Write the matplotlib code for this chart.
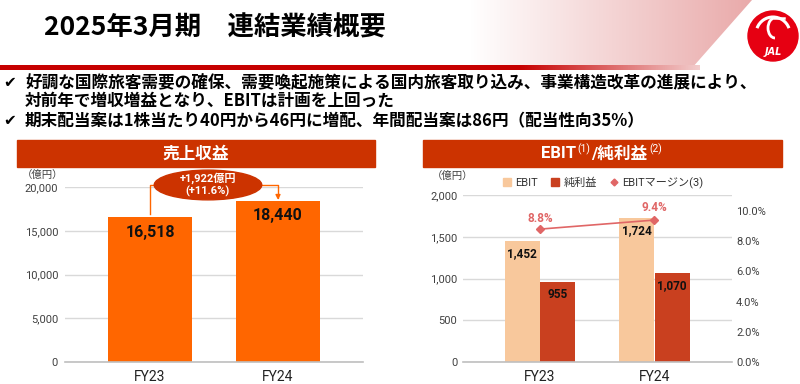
import numpy as np
import matplotlib
matplotlib.use("Agg")
import matplotlib.pyplot as plt
from matplotlib.patches import Rectangle, Ellipse, Polygon, Circle, Arc, Patch
from matplotlib.lines import Line2D
from matplotlib.colors import LinearSegmentedColormap
from matplotlib.ticker import FuncFormatter

plt.rcParams['font.family'] = ['Roboto', 'Noto Sans CJK JP', 'DejaVu Sans']

# data
years = ['FY23', 'FY24']
revenue = [16518, 18440]
ebit = [1452, 1724]
net_income = [955, 1070]
ebit_margin = [8.8, 9.4]

title = '2025年3月期　連結業績概要'
bullets = ['好調な国際旅客需要の確保、需要喚起施策による国内旅客取り込み、事業構造改革の進展により、',
           '対前年で増収増益となり、EBITは計画を上回った',
           '期末配当案は1株当たり40円から46円に増配、年間配当案は86円（配当性向35%）']

ORANGE = '#ff6600'
HEAD_RED = '#cc3300'
PEACH = '#f8c89c'
BRICK = '#c9401f'
PINK = '#e06666'
GRID = '#d9d9d9'
TICK = '#404040'
CJK = ['Noto Sans CJK JP', 'DejaVu Sans']

W, H = 800, 384
fig = plt.figure(figsize=(8, 3.84), dpi=100)
bg = fig.add_axes([0, 0, 1, 1], zorder=0)
bg.axis('off')


def fbox(x0, y0, x1, y1):
    return [x0 / W, 1 - y1 / H, (x1 - x0) / W, (y1 - y0) / H]


# header decoration
cmap = LinearSegmentedColormap.from_list('sw', ['#ffffff', '#e9a9a9'])
im = bg.imshow(np.linspace(0, 1, 256).reshape(1, -1), extent=[470, 755, 68, 0],
               cmap=cmap, aspect='auto', zorder=0.5)
im.set_clip_path(Polygon([(470, 0), (752, 0), (692, 68), (470, 68)], transform=bg.transData))

line_cols = np.ones((1, 300, 3))
red = np.array([0.78, 0.0, 0.0])
pale = np.array([0.95, 0.8, 0.8])
t = np.clip((np.linspace(0, 700, 300) - 520) / 180, 0, 1)
line_cols[0] = red[None, :] * (1 - t[:, None]) + pale[None, :] * t[:, None]
bg.imshow(line_cols, extent=[0, 700, 70, 65.5], aspect='auto', zorder=0.6)

bg.set_xlim(0, W)
bg.set_ylim(H, 0)

bg.text(44, 28, title, fontsize=19, fontweight='bold', va='center', ha='left', family=CJK)

# JAL logo
bg.add_patch(Circle((773, 36), 25, color='#e60012', zorder=2))
bg.add_patch(Arc((773, 34), 34, 34, theta1=200, theta2=340, color='white', lw=2.2, zorder=3))
bg.add_patch(Arc((775, 28), 14, 20, theta1=90, theta2=270, color='white', lw=2, zorder=3))
bg.plot([775, 784], [18, 18], color='white', lw=1.8, zorder=3)
bg.text(773, 52, 'JAL', color='white', fontsize=7, fontweight='bold', style='italic',
        ha='center', va='center', zorder=4, family='DejaVu Sans')

# bullets
for y, s, mark in zip([82, 101, 121], bullets, [True, False, True]):
    if mark:
        bg.text(3, y, '✔', fontsize=11, fontweight='bold', va='center', family='DejaVu Sans')
    bg.text(25, y, s, fontsize=12, fontweight='bold', va='center', family=CJK)

# panel headers
bg.add_patch(Rectangle((17, 140), 358, 27, color=HEAD_RED, zorder=1))
bg.add_patch(Rectangle((423, 140), 359, 27, color=HEAD_RED, zorder=1))
bg.text(196, 154, '売上収益', color='white', fontsize=12, fontweight='bold',
        ha='center', va='center', zorder=2)

renderer = fig.canvas.get_renderer()
parts = [('EBIT', 12, 0), ('(1)', 7.5, -5), ('/純利益', 12, 0), ('(2)', 7.5, -5)]
objs = []
for s, fs, dy in parts:
    objs.append((bg.text(0, 154 + dy, s, color='white', fontsize=fs, fontweight='bold' if fs > 8 else 'normal',
                         ha='left', va='center', zorder=2), fs))
widths = [o.get_window_extent(renderer).width + (3 if fs < 8 else 0) for o, fs in objs]
x = 602 - sum(widths) / 2
for (o, fs), w in zip(objs, widths):
    o.set_x(x + (2 if fs < 8 else 0))
    x += w

# unit labels
bg.text(43, 175, '（億円）', fontsize=7.5, color=TICK, ha='center', va='center', family=CJK)
bg.text(453, 176, '（億円）', fontsize=7.5, color=TICK, ha='center', va='center', family=CJK)

# left chart: revenue
ax1 = fig.add_axes(fbox(65, 187, 363, 362), zorder=2)
ax1.patch.set_alpha(0)
xs = np.arange(len(years))
ax1.bar(xs, revenue, 0.65, color=ORANGE, zorder=2)
ax1.set_xlim(-0.664, 1.664)
ax1.set_ylim(0, 20000)
ax1.set_yticks([0, 5000, 10000, 15000, 20000])
ax1.yaxis.set_major_formatter(FuncFormatter(lambda v, p: f'{v:,.0f}'))
ax1.set_xticks(xs)
ax1.set_xticklabels(years, fontsize=10)
ax1.tick_params(axis='y', length=0, pad=5, labelsize=8, labelcolor=TICK)
ax1.tick_params(axis='x', length=0, pad=6, labelcolor='#222222')
ax1.yaxis.grid(True, color=GRID, lw=1)
ax1.set_axisbelow(True)
for sp in ['top', 'right', 'left']:
    ax1.spines[sp].set_visible(False)
ax1.spines['bottom'].set_color('#bfbfbf')
ax1.spines['bottom'].set_linewidth(1.2)
for i, v in enumerate(revenue):
    ax1.annotate(f'{v:,}', (i, v), xytext=(0, -11), textcoords='offset points',
                 ha='center', va='center', fontsize=11.5, fontweight='bold', color='#111111')

# change bubble
diff = revenue[1] - revenue[0]
pct = diff / revenue[0] * 100
yc = 20230
ex, ew = 0.453, 0.84
ax1.plot([0, 0, ex - ew / 2], [revenue[0] + 400, yc, yc], color=ORANGE, lw=1, clip_on=False)
ax1.annotate('', xy=(1, revenue[1] + 80), xytext=(ex + ew / 2 - 0.01, yc),
             arrowprops=dict(arrowstyle='-|>', color=ORANGE, lw=1, mutation_scale=7,
                             connectionstyle='angle,angleA=0,angleB=90,rad=0',
                             shrinkA=0, shrinkB=0), annotation_clip=False)
ax1.add_patch(Ellipse((ex, yc), ew, 3400, color=HEAD_RED, clip_on=False, zorder=3))
ax1.text(ex, yc, f'+{diff:,}億円\n(+{pct:.1f}%)', color='white', fontsize=8, fontweight='bold',
         ha='center', va='center', linespacing=1.2, zorder=4,
         family=['Roboto', 'Noto Sans CJK JP'])

# right chart: EBIT / net income
ax2 = fig.add_axes(fbox(463, 195, 732, 362), zorder=2)
ax2.patch.set_alpha(0)
bw = 0.305
ax2.bar(xs - 0.155, ebit, bw, color=PEACH, zorder=2)
ax2.bar(xs + 0.155, net_income, bw, color=BRICK, zorder=2)
ax2.set_xlim(-0.672, 1.677)
ax2.set_ylim(0, 2000)
ax2.set_yticks([0, 500, 1000, 1500, 2000])
ax2.yaxis.set_major_formatter(FuncFormatter(lambda v, p: f'{v:,.0f}'))
ax2.set_xticks(xs)
ax2.set_xticklabels(years, fontsize=10)
ax2.tick_params(axis='y', length=0, pad=4, labelsize=8, labelcolor=TICK)
ax2.tick_params(axis='x', length=0, pad=6, labelcolor='#222222')
ax2.yaxis.grid(True, color=GRID, lw=1)
ax2.set_axisbelow(True)
for sp in ['top', 'right', 'left']:
    ax2.spines[sp].set_visible(False)
ax2.spines['bottom'].set_color('#bfbfbf')
ax2.spines['bottom'].set_linewidth(1.2)
for i in xs:
    ax2.annotate(f'{ebit[i]:,}', (i - 0.155, ebit[i]), xytext=(0, -9), textcoords='offset points',
                 ha='center', va='center', fontsize=8.5, fontweight='bold', color='#111111')
    ax2.annotate(f'{net_income[i]:,}', (i + 0.155, net_income[i]), xytext=(0, -9),
                 textcoords='offset points', ha='center', va='center', fontsize=8.5,
                 fontweight='bold', color='#111111')

ax3 = ax2.twinx()
ax3.set_ylim(0, 10 * 167 / 151)
ax3.set_yticks([0, 2, 4, 6, 8, 10])
ax3.yaxis.set_major_formatter(FuncFormatter(lambda v, p: f'{v:.1f}%'))
ax3.tick_params(axis='y', length=0, pad=3, labelsize=8, labelcolor=TICK)
for sp in ax3.spines.values():
    sp.set_visible(False)
ax3.plot(xs, ebit_margin, color=PINK, lw=1.2, marker='D', ms=4, zorder=3)
for i, m in enumerate(ebit_margin):
    ax3.annotate(f'{m:.1f}%', (i, m), xytext=(0, 7.5 + 1.5 * i), textcoords='offset points',
                 ha='center', va='center', fontsize=8.5, fontweight='bold', color=PINK)

handles = [Patch(color=PEACH, label='EBIT'), Patch(color=BRICK, label='純利益'),
           Line2D([], [], color=PINK, marker='D', ms=3.5, linestyle='none', label='EBITマージン(3)')]
fig.legend(handles=handles, loc='center', bbox_to_anchor=(603 / W, 1 - 183 / H), ncol=3,
           frameon=False, fontsize=8, handlelength=0.7, handleheight=0.7,
           handletextpad=0.4, columnspacing=1.2, labelcolor='#333333')

fig.savefig('out.png', dpi=100, facecolor='white')
